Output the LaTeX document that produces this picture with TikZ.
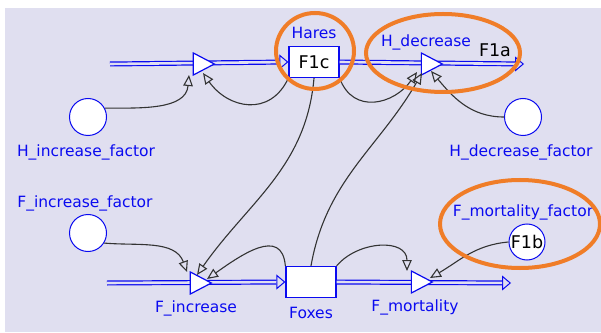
\documentclass[tikz,border=0pt]{standalone}
\usepackage{fontspec}
\setmainfont{DejaVu Sans}
\usetikzlibrary{shapes.geometric,arrows.meta,positioning}
\newcommand\lblfont{\fontsize{15.5}{18}\selectfont}
\newcommand\tagfont{\fontsize{17.5}{20}\selectfont}
\definecolor{bgfill}{HTML}{E0DFF0}
\definecolor{simblue}{HTML}{0A0AF0}
\definecolor{marker}{HTML}{F07D28}
\colorlet{fg}{black!80}
\tikzset{
    stock/.style={draw=simblue,fill=white,line width=1.3pt,minimum width=50pt,minimum height=31pt,inner sep=0pt,font=\tagfont},
    valve/.style={isosceles triangle,isosceles triangle stretches,draw=simblue,fill=white,line width=1.2pt,minimum width=22pt,minimum height=21pt,inner sep=0pt},
    conv/.style={circle,draw=simblue,fill=white,line width=1pt,minimum size=37pt,inner sep=0pt,font=\tagfont},
    lbl/.style={text=simblue,font=\lblfont,inner sep=1pt},
    flow/.style={draw=simblue,double=bgfill,line width=1.2pt,double distance=2.6pt},
    flowtip/.style={draw=simblue,line width=1pt,-{Triangle[open,length=9pt,width=15pt]}},
    link/.style={draw=fg,line width=1.1pt,-{Triangle[open,length=11pt,width=9.5pt]}},
    ring/.style={draw=marker,line width=4pt}
}

\begin{document}
\begin{tikzpicture}[x=1pt,y=1pt]
	    \useasboundingbox (0,0) rectangle (601,332);
	    \fill[white] (0,0) rectangle (601,332);
	    \fill[bgfill] (5,0) rectangle (601,324);
	    % stocks and converters
	    \node[stock] (hares) at (314,270) {F1c};
	    \node[stock] (foxes) at (311,50) {};
	    \node[conv] (hif) at (88,215) {};
	    \node[conv] (hdf) at (523,215) {};
	    \node[conv] (fif) at (88,99) {};
	    \node[conv,minimum size=36pt] (fmf) at (527,90) {F1b};
	    \coordinate (hsrc) at (110,268);
	    \coordinate (hsnk) at (524,268);
	    \coordinate (fsrc) at (107,49);
	    \coordinate (fsnk) at (511,49);
	    % flows
	    \draw[flowtip] ([xshift=-20pt]hares.west) -- (hares.west);
	    \draw[flow,shorten >=9pt] (hsrc) -- (hares.west);
	    \draw[flowtip] ([xshift=-20pt]hsnk) -- (hsnk);
	    \draw[flow,shorten >=9pt] (hares.east) -- (hsnk);
	    \draw[flowtip] ([xshift=-20pt]foxes.west) -- (foxes.west);
	    \draw[flow,shorten >=9pt] (fsrc) -- (foxes.west);
	    \draw[flowtip] ([xshift=-20pt]fsnk) -- (fsnk);
	    \draw[flow,shorten >=9pt] (foxes.east) -- (fsnk);
	    \node[valve] (vHi) at (200,268) {};
	    \node[valve] (vHd) at (428,268) {};
	    \node[valve] (vFi) at (197,49) {};
	    \node[valve] (vFm) at (418,50) {};
	    % links
	    \draw[link] (hif.28) to[out=0,in=-95] ([shift={(-11,-11)}]vHi.center);
	    \draw[link] (hares.south west) to[out=-115,in=-55,looseness=1.3] ([shift={(3,-9)}]vHi.center);
	    \draw[link] (hares.south east) to[out=-70,in=-125,looseness=1.3] ([shift={(-11,-8)}]vHd.center);
	    \draw[link] (hares.south) to[out=-95,in=55] ([shift={(0,8)}]vFi.center);
	    \draw[link] (foxes.north) to[out=80,in=-120] ([shift={(-6,-9)}]vHd.center);
	    \draw[link] (hdf.west) to[out=180,in=-50] ([shift={(3,-7)}]vHd.center);
	    \draw[link] (fif.-32) to[out=-5,in=110] ([shift={(-10,11)}]vFi.center);
	    \draw[link] (foxes.north west) to[out=95,in=35,looseness=1.3] ([shift={(10,4)}]vFi.center);
	    \draw[link] (foxes.north east) to[out=50,in=90,looseness=1.2] ([shift={(-11,11)}]vFm.center);
	    \draw[link] (fmf.west) to[out=185,in=30] ([shift={(12,4)}]vFm.center);
	    % labels
	    \node[lbl] (haresl) at (314,299) {Hares};
	    \node[lbl] (hdl) at (426,290) {H\_decrease};
	    \node[lbl,text=black,font=\tagfont] (f1a) at (495,282) {F1a};
	    \node[lbl] (hifl) at (86,180) {H\_increase\_factor};
	    \node[lbl] (hdfl) at (521,180) {H\_decrease\_factor};
	    \node[lbl] (fifl) at (85,129) {F\_increase\_factor};
	    \node[lbl] (fil) at (196,24) {F\_increase};
	    \node[lbl] (foxesl) at (311,19) {Foxes};
	    \node[lbl] (fml) at (415,25) {F\_mortality};
	    \node[lbl] (fmfl) at (523,120) {F\_mortality\_factor};
	    % highlight rings
	    \draw[ring] (315,281) ellipse [x radius=39, y radius=38];
	    \draw[ring] (443,279) ellipse [x radius=77, y radius=39];
	    \draw[ring] (520,108) ellipse [x radius=80, y radius=44];
\end{tikzpicture}
\end{document}
